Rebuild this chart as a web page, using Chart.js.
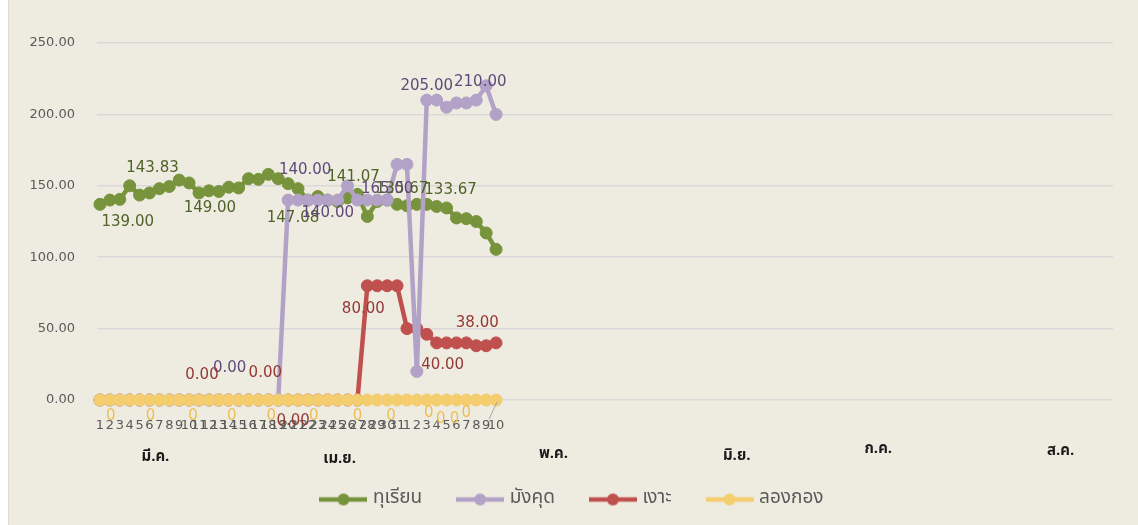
<!DOCTYPE html>
<html>
<head>
<meta charset="utf-8">
<script src="https://cdn.jsdelivr.net/npm/chart.js@4.4.1/dist/chart.umd.min.js"></script>
<style>
  html, body { margin: 0; padding: 0; background: #fff; }
  #wrap { width: 1138px; height: 525px; position: relative; }
</style>
</head>
<body>
<div id="wrap"><canvas id="chart"></canvas></div>
<script>
const THAI = "Tahoma, 'Noto Sans Thai', 'Noto Sans Thai UI', Loma, Garuda, 'DejaVu Sans', 'Noto Sans', sans-serif";
const NUM = "'DejaVu Sans', Tahoma, sans-serif";

// day labels: มี.ค. 1-31 then เม.ย. 1-10
const dayLabels = [
  "1","2","3","4","5","6","7","8","9","10","11","12","13","14","15","16",
  "17","18","19","20","21","22","23","24","25","26","27","28","29","30","31",
  "1","2","3","4","5","6","7","8","9","10"
];
const months = ["มี.ค.", "เม.ย.", "พ.ค.", "มิ.ย.", "ก.ค.", "ส.ค."];
const seriesNames = ["ทุเรียน", "มังคุด", "เงาะ", "ลองกอง"];

const durian = [
  137, 140, 140.5, 150, 143.5, 145, 148, 149.5, 154, 152, 145, 146.5, 146, 149,
  148.5, 155, 154.5, 158, 155, 151.5, 148, 140, 142.5, 140, 139, 141.5, 144,
  128.5, 139, 140, 137, 136, 137, 137, 135.5, 134.5, 127.5, 127, 125, 117, 105.5
];
const mangosteen = [
  0, 0, 0, 0, 0, 0, 0, 0, 0, 0, 0, 0, 0, 0, 0, 0, 0, 0, 0,
  140, 140, 140, 140, 140, 140, 150, 140, 140, 140, 140, 165, 165, 20,
  210, 210, 205, 208, 208, 210, 220, 200
];
const rambutan = [
  0, 0, 0, 0, 0, 0, 0, 0, 0, 0, 0, 0, 0, 0, 0, 0, 0, 0, 0, 0, 0, 0, 0, 0, 0, 0, 0,
  80, 80, 80, 80, 50, 50, 46, 40, 40, 40, 40, 38, 38, 40
];
const longkong = [
  0, 0, 0, 0, 0, 0, 0, 0, 0, 0, 0, 0, 0, 0, 0, 0, 0, 0, 0, 0, 0,
  0, 0, 0, 0, 0, 0, 0, 0, 0, 0, 0, 0, 0, 0, 0, 0, 0, 0, 0, 0
];
const yMax = 250;
const yStep = 50;

// data label texts as shown in the sheet: [series, point, text, dx, dy]
const pointNotes = [
  [0, 2, "139.00", 8, 23], [0, 5, "143.83", 3, -25], [0, 11, "149.00", 1, 17],
  [0, 20, "147.08", -5, 29], [0, 25, "141.07", 6, -21], [0, 30, "135.67", 5, -15],
  [0, 35, "133.67", 4, -18],
  [1, 19, "140.00", 17, -30], [1, 23, "140.00", 0, 13], [1, 13, "0.00", 1, -32],
  [1, 29, "165.00", 0, -11], [1, 33, "205.00", 0, -14], [1, 38, "210.00", 4, -18],
  [2, 10, "0.00", 3, -25], [2, 17, "0.00", -3, -27], [2, 19, "0.00", 5, 21],
  [2, 27, "80.00", -4, 23], [2, 34, "40.00", 6, 22], [2, 38, "38.00", 1, -23],
  [3, 1, "0", 1, 16], [3, 5, "0", 1, 16], [3, 9, "0", 4, 16], [3, 13, "0", 3, 16],
  [3, 17, "0", 3, 16], [3, 22, "0", -4, 16], [3, 26, "0", 0, 16], [3, 29, "0", 4, 16],
  [3, 33, "0", 2, 13], [3, 34, "0", 4, 19], [3, 36, "0", -2, 19], [3, 37, "0", 0, 13]
];
const monthAt = [5.6, 24.2, 45.8, 64.3, 78.6, 97];
const monthDrop = [58, 60, 55, 57, 50, 52];

const lineColors = ["#77933C", "#B3A2C7", "#C0504D", "#F4CD6E"];
const noteColors = ["#4F6228", "#5F497A", "#953735", "#EDBE55"];

function legendIcon(color) {
  const c = document.createElement("canvas");
  c.width = 48;
  c.height = 14;
  const g = c.getContext("2d");
  g.strokeStyle = color;
  g.lineWidth = 4.5;
  g.beginPath();
  g.moveTo(0, 7);
  g.lineTo(48, 7);
  g.stroke();
  g.fillStyle = color;
  g.beginPath();
  g.arc(24, 7, 6, 0, Math.PI * 2);
  g.fill();
  return c;
}
const legendIcons = lineColors.map(legendIcon);

function series(label, values, i, order) {
  return {
    label,
    data: values.map((v, k) => ({ x: k, y: v })),
    borderColor: lineColors[i],
    backgroundColor: lineColors[i],
    pointBackgroundColor: lineColors[i],
    pointBorderColor: lineColors[i],
    borderWidth: 4.5,
    pointRadius: 6,
    pointHoverRadius: 6,
    pointBorderWidth: 1,
    tension: 0,
    clip: false,
    order,
  };
}

const paper = {
  id: "paper",
  afterLayout(chart) {
    // the sheet's legend sits a little right of centre
    chart.legend.left += 17;
    chart.legend.right += 17;
  },
  beforeDraw(chart) {
    const { ctx, width, height } = chart;
    ctx.save();
    ctx.fillStyle = "#ffffff";
    ctx.fillRect(0, 0, width, height);
    ctx.fillStyle = "#EEECE1";
    ctx.fillRect(9, 0, width - 9, height);
    ctx.strokeStyle = "#D9D9D9";
    ctx.lineWidth = 1;
    ctx.beginPath();
    ctx.moveTo(8.5, 0);
    ctx.lineTo(8.5, height);
    ctx.stroke();
    ctx.restore();
  },
};

const monthRow = {
  id: "monthRow",
  afterDraw(chart) {
    const { ctx } = chart;
    const xs = chart.scales.x;
    const bottom = chart.chartArea.bottom;
    ctx.save();
    ctx.font = "bold 15px " + THAI;
    ctx.fillStyle = "#1a1a1a";
    ctx.textAlign = "center";
    ctx.textBaseline = "middle";
    months.forEach((m, i) => {
      ctx.fillText(m, xs.getPixelForValue(monthAt[i]), bottom + monthDrop[i]);
    });
    ctx.restore();
  },
};

const notes = {
  id: "notes",
  afterDatasetsDraw(chart) {
    const { ctx } = chart;
    ctx.save();
    ctx.font = "15px " + NUM;
    ctx.textAlign = "center";
    ctx.textBaseline = "middle";
    pointNotes.forEach(([s, k, text, dx, dy]) => {
      const el = chart.getDatasetMeta(s).data[k];
      if (!el) return;
      ctx.fillStyle = noteColors[s];
      ctx.fillText(text, el.x + dx, el.y + dy);
    });
    // leader line of the last ลองกอง label
    const last = chart.getDatasetMeta(3).data[longkong.length - 1];
    if (last) {
      ctx.strokeStyle = "#A6A6A6";
      ctx.lineWidth = 1;
      ctx.beginPath();
      ctx.moveTo(last.x + 1, last.y + 2);
      ctx.lineTo(last.x - 7, last.y + 19);
      ctx.stroke();
    }
    ctx.restore();
  },
};

new Chart(document.getElementById("chart"), {
  type: "line",
  data: {
    datasets: [
      series(seriesNames[0], durian, 0, 4),
      series(seriesNames[1], mangosteen, 1, 2),
      series(seriesNames[2], rambutan, 2, 3),
      series(seriesNames[3], longkong, 3, 1),
    ],
  },
  options: {
    responsive: true,
    maintainAspectRatio: false,
    animation: false,
    events: [],
    layout: { padding: { top: 43, right: 25, left: 0, bottom: 8 } },
    scales: {
      x: {
        type: "linear",
        min: -0.3,
        max: 102.3,
        afterBuildTicks(scale) {
          scale.ticks = dayLabels.map((_, i) => ({ value: i }));
        },
        afterFit(scale) {
          scale.height = 52;
        },
        grid: { display: false, drawTicks: false },
        border: { display: false },
        ticks: {
          autoSkip: false,
          maxRotation: 0,
          padding: 18,
          color: "#595959",
          font: { size: 13, family: NUM },
          callback: (v) => dayLabels[v] ?? "",
        },
      },
      y: {
        min: 0,
        max: yMax,
        afterFit(scale) {
          scale.width = 97;
        },
        grid: { color: "#D9D9D9", lineWidth: 1.5, drawTicks: false },
        border: { display: false },
        ticks: {
          stepSize: yStep,
          padding: 22,
          color: "#595959",
          font: { size: 13, family: NUM },
          callback: (v) => v.toFixed(2),
        },
      },
    },
    plugins: {
      tooltip: { enabled: false },
      legend: {
        position: "bottom",
        maxHeight: 65,
        labels: {
          usePointStyle: true,
          pointStyleWidth: 40,
          padding: 38,
          color: "#595959",
          font: { size: 19, family: THAI },
          sort: (a, b) => a.datasetIndex - b.datasetIndex,
          generateLabels(chart) {
            const items = Chart.defaults.plugins.legend.labels.generateLabels(chart);
            items.forEach((it) => {
              it.pointStyle = legendIcons[it.datasetIndex];
            });
            return items;
          },
        },
      },
    },
  },
  plugins: [paper, monthRow, notes],
});
</script>
</body>
</html>
